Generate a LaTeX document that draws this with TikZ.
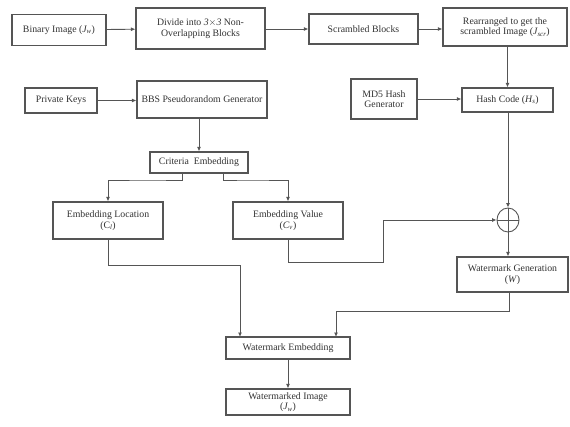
\documentclass[tikz,border=0pt]{standalone}
\usepackage{fontspec}
\setmainfont{Liberation Serif}
\usetikzlibrary{arrows.meta, shapes.geometric}
\definecolor{linegray}{RGB}{85,85,85}
\definecolor{textgray}{RGB}{50,50,50}
\begin{document}
\begin{tikzpicture}[x=1pt, y=-1pt,
		blk/.style={draw=linegray, line width=1.1pt, fill=white, align=center,
			text=textgray, font=\fontsize{9.8}{10.5}\selectfont, inner sep=1pt},
		link/.style={draw=linegray, line width=0.9pt},
		arr/.style={link, -{Latex[length=4.5pt, width=4pt]}}]
		\useasboundingbox (0, 0) rectangle (570, 426);
		% top row
		\node[blk, minimum width=94, minimum height=31] (bin) at (59, 30) {Binary Image (\textit{J\textsubscript{w}})};
		\node[blk, minimum width=129, minimum height=41] (div) at (200.5, 28.5) {Divide into \textit{3}$\times$\textit{3} Non-\\Overlapping Blocks};
		\node[blk, minimum width=109, minimum height=30] (scr) at (363.5, 29) {Scrambled Blocks};
		\node[blk, minimum width=124, minimum height=38] (rea) at (505, 27) {Rearranged to get the\\scrambled Image (\textit{J\textsubscript{scr}})};
		% keys and hash
		\node[blk, minimum width=72, minimum height=25] (key) at (61, 100.5) {Private Keys};
		\node[blk, minimum width=130, minimum height=37] (bbs) at (202, 99.5) {BBS Pseudorandom Generator};
		\node[blk, minimum width=66, minimum height=40] (md5) at (384, 99) {MD5 Hash\\Generator};
		\node[blk, minimum width=91, minimum height=24] (hash) at (507.5, 100) {Hash Code (\textit{H\textsubscript{s}})};
		\node[blk, minimum width=98, minimum height=21] (crit) at (199, 162.5) {Criteria\enspace Embedding};
		% embedding parameters
		\node[blk, minimum width=110, minimum height=37] (loc) at (108, 220.5) {Embedding Location\\(C\textsubscript{\textit{l}})};
		\node[blk, minimum width=110, minimum height=37] (val) at (288, 220.5) {Embedding Value\\(\textit{C\textsubscript{v}})};
		\node[draw=linegray, line width=0.9pt, ellipse, minimum width=22, minimum height=24,
			inner sep=0pt, fill=white] (xor) at (508, 220) {};
		\draw[link] (xor.north) -- (xor.south) (xor.west) -- (xor.east);
		\node[blk, minimum width=111, minimum height=35] (gen) at (512.5, 274.5) {Watermark Generation\\(\textit{W})};
		% output
		\node[blk, minimum width=124, minimum height=22] (emb) at (288, 348) {Watermark Embedding};
		\node[blk, minimum width=124, minimum height=26] (out) at (288, 402) {Watermarked Image\\(\textit{J\textsubscript{w}})};
		% connectors
		\coordinate (genout) at (509, 292);
		\draw[arr] (bin) -- (div);
		\draw[arr] (div.east |- scr) -- (scr);
		\draw[arr] (scr) -- (rea.west |- scr);
		\draw[arr] (rea.south -| hash) -- (hash);
		\draw[arr] (key) -- (bbs.west |- key);
		\draw[arr] (md5) -- (hash.west |- md5);
		\draw[arr] (bbs.south -| crit) -- (crit);
		\draw[arr] ([xshift=-17pt]crit.south) |- (150, 180) -| (loc);
		\draw[arr] ([xshift=24pt]crit.south) |- (250, 180) -| (val);
		\draw[arr] (hash.south -| xor) -- (xor);
		\draw[arr] (val) |- (383, 262) |- (xor);
		\draw[arr] (xor) -- (xor |- gen.north);
		\draw[arr] (loc) |- (240, 265) -- (240, 337);
		\draw[arr] (genout) |- (336, 311) -- (336, 337);
		\draw[arr] (emb) -- (out);
	\end{tikzpicture}
\end{document}
